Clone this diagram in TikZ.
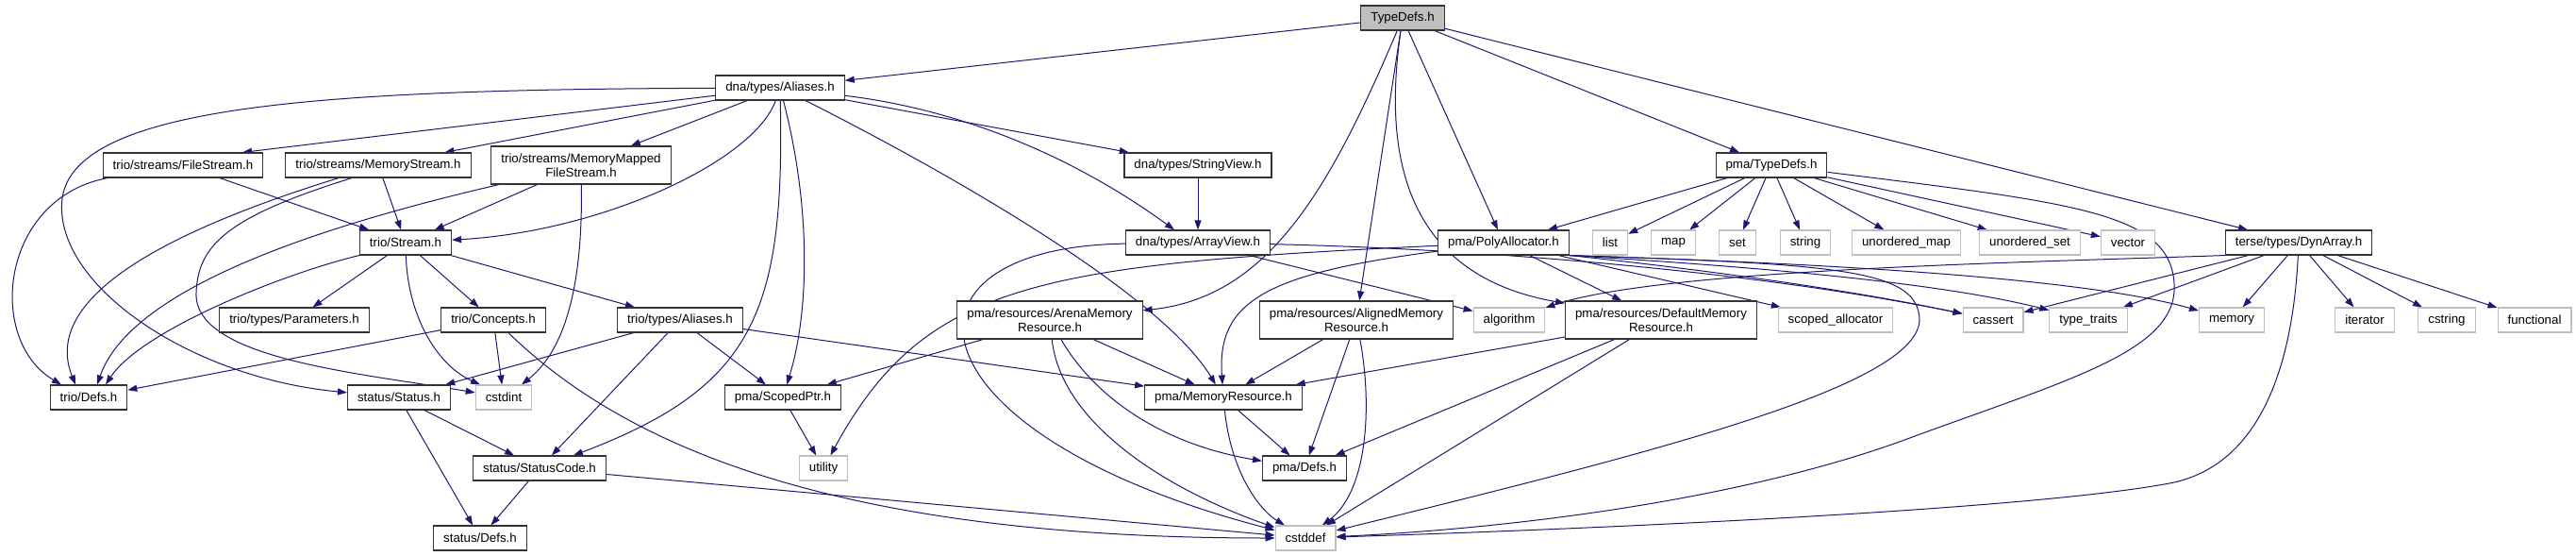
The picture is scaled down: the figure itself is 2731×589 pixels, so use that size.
\documentclass[tikz,border=0pt]{standalone}
\usepackage{fontspec}
\setmainfont{Liberation Sans}
\usetikzlibrary{arrows.meta,backgrounds}
\definecolor{depblue}{HTML}{191970}
\definecolor{hdrgray}{HTML}{BFBFBF}

\begin{document}
\begin{tikzpicture}[x=1pt,y=-1pt,>={Triangle[length=10pt,width=7pt]},
  hdr/.style={draw=black!80,fill=white,line width=1.1pt,font=\fontsize{13.3}{15.5}\selectfont,
    inner xsep=10.5pt,inner ysep=0pt,minimum height=26pt,align=center},
  hdrtwo/.style={hdr,minimum height=40pt},
  sys/.style={hdr,draw=hdrgray},
  dep/.style={depblue,line width=1pt,->}]
  \useasboundingbox (0,0) rectangle (2731,589);
  % cabeceras del proyecto
  \node[hdr,fill=hdrgray] (typedefs) at (1487,19) {TypeDefs.h};
  \node[hdr] (aliases) at (827,93) {dna/types/Aliases.h};
  \node[hdr] (filestream) at (194,175) {trio/streams/FileStream.h};
  \node[hdr] (memstream) at (401,175) {trio/streams/MemoryStream.h};
  \node[hdrtwo] (mmapstream) at (616,175) {trio/streams/MemoryMapped\\FileStream.h};
  \node[hdr] (stringview) at (1270,175) {dna/types/StringView.h};
  \node[hdr] (pmatypedefs) at (1878,175) {pma/TypeDefs.h};
  \node[hdr] (stream) at (430,257) {trio/Stream.h};
  \node[hdr] (arrayview) at (1270,257) {dna/types/ArrayView.h};
  \node[hdr] (polyalloc) at (1594,257) {pma/PolyAllocator.h};
  \node[hdr] (dynarray) at (2437,257) {terse/types/DynArray.h};
  \node[hdr] (params) at (312,339) {trio/types/Parameters.h};
  \node[hdr] (concepts) at (523,339) {trio/Concepts.h};
  \node[hdr] (trioaliases) at (721,339) {trio/types/Aliases.h};
  \node[hdrtwo] (arena) at (1113,339) {pma/resources/ArenaMemory\\Resource.h};
  \node[hdrtwo] (aligned) at (1438,339) {pma/resources/AlignedMemory\\Resource.h};
  \node[hdrtwo] (defaultres) at (1761,339) {pma/resources/DefaultMemory\\Resource.h};
  \node[hdr] (triodefs) at (94,421) {trio/Defs.h};
  \node[hdr] (status) at (423,421) {status/Status.h};
  \node[hdr] (scopedptr) at (830,421) {pma/ScopedPtr.h};
  \node[hdr] (memres) at (1297,421) {pma/MemoryResource.h};
  \node[hdr] (statuscode) at (572,496) {status/StatusCode.h};
  \node[hdr] (pmadefs) at (1383,496) {pma/Defs.h};
  \node[hdr] (statusdefs) at (509,570) {status/Defs.h};
  % cabeceras del sistema
  \node[sys] (list) at (1707,257) {list};
  \node[sys] (map) at (1774,257) {map};
  \node[sys] (set) at (1842,257) {set};
  \node[sys] (string) at (1914,257) {string};
  \node[sys] (umap) at (2021,257) {unordered\_map};
  \node[sys] (uset) at (2152,257) {unordered\_set};
  \node[sys] (vector) at (2256,257) {vector};
  \node[sys] (algorithm) at (1600,339) {algorithm};
  \node[sys] (scopedalloc) at (1946,339) {scoped\_allocator};
  \node[sys] (cassert) at (2113,339) {cassert};
  \node[sys] (typetraits) at (2214,339) {type\_traits};
  \node[sys] (memory) at (2366,339) {memory};
  \node[sys] (iterator) at (2507,339) {iterator};
  \node[sys] (cstring) at (2594,339) {cstring};
  \node[sys] (functional) at (2687,339) {functional};
  \node[sys] (cstdint) at (534,421) {cstdint};
  \node[sys] (utility) at (873,496) {utility};
  \node[sys] (cstddef) at (1384,570) {cstddef};
  \begin{scope}[on background layer]
  % includes rectos
  \foreach \a/\b in {typedefs/aliases,typedefs/aligned,typedefs/polyalloc,typedefs/pmatypedefs,typedefs/dynarray,
      aliases/memstream,aliases/mmapstream,aliases/stringview,filestream/stream,memstream/stream,mmapstream/stream,
      stream/params,stream/concepts,stream/trioaliases,stringview/arrayview,arrayview/algorithm,
      pmatypedefs/polyalloc,pmatypedefs/list,pmatypedefs/map,pmatypedefs/set,pmatypedefs/string,pmatypedefs/umap,
      pmatypedefs/uset,pmatypedefs/vector,polyalloc/defaultres,polyalloc/scopedalloc,
      dynarray/cassert,dynarray/typetraits,dynarray/memory,dynarray/iterator,dynarray/cstring,dynarray/functional,
      concepts/triodefs,concepts/cstdint,trioaliases/status,trioaliases/statuscode,trioaliases/scopedptr,trioaliases/memres,
      arena/scopedptr,arena/memres,aligned/memres,aligned/pmadefs,defaultres/memres,defaultres/pmadefs,defaultres/cstddef,
      status/statuscode,status/statusdefs,statuscode/statusdefs,statuscode/cstddef,scopedptr/utility,memres/pmadefs}
    \draw[dep] (\a) -- (\b);
  % includes curvos
  \draw[dep] (typedefs) .. controls (1410,200) and (1345,315) .. (arena);
  \draw[dep] (typedefs) .. controls (1468,150) and (1480,290) .. (defaultres);
  \draw[dep] (aliases) -- ([xshift=63pt]filestream.north);
  \draw[dep] (aliases) .. controls (800,170) and (640,245) .. (stream);
  \draw[dep] (aliases) .. controls (350,95) and (80,110) .. (66,210) .. controls (55,300) and (200,400) .. (status);
  \draw[dep] (aliases) .. controls (1010,115) and (1130,160) .. ([xshift=-25pt]arrayview.north);
  \draw[dep] (aliases) .. controls (1000,180) and (1230,310) .. (memres);
  \draw[dep] (aliases) .. controls (860,220) and (858,330) .. (scopedptr);
  \draw[dep] (aliases) .. controls (832,330) and (800,410) .. (statuscode);
  \draw[dep] ([xshift=-80pt]filestream.south) .. controls (0,210) and (-15,360) .. ([xshift=-29pt]triodefs.north);
  \draw[dep] ([xshift=-42pt]memstream.south) .. controls (160,250) and (45,320) .. ([xshift=-14pt]triodefs.north);
  \draw[dep] ([xshift=-28pt]memstream.south) .. controls (240,230) and (210,260) .. (208,310) .. controls (205,380) and (380,395) .. (cstdint);
  \draw[dep] ([xshift=-87pt]mmapstream.south) .. controls (250,260) and (130,330) .. ([xshift=9pt]triodefs.north);
  \draw[dep] (mmapstream) .. controls (618,300) and (600,370) .. ([xshift=19pt]cstdint.north);
  \draw[dep] (stream.south west) .. controls (300,290) and (150,350) .. ([xshift=18pt]triodefs.north);
  \draw[dep] (stream) .. controls (432,330) and (460,385) .. ([xshift=-25pt]cstdint.north);
  \draw[dep] ([xshift=16pt]concepts.south) .. controls (660,470) and (880,570) .. (cstddef);
  \draw[dep] (arena) .. controls (1160,420) and (1230,470) .. (pmadefs);
  \draw[dep] (arena) .. controls (1125,450) and (1240,520) .. (cstddef);
  \draw[dep] (memres) .. controls (1305,500) and (1335,540) .. ([xshift=-22pt]cstddef.north);
  \draw[dep] (aligned) .. controls (1455,430) and (1450,520) .. (cstddef);
  \draw[dep] (arrayview) .. controls (930,262) and (960,460) .. (cstddef);
  \draw[dep] (arrayview) .. controls (1550,263) and (1850,285) .. (cassert);
  \draw[dep] (polyalloc) .. controls (1340,290) and (1290,320) .. (memres);
  \draw[dep] (polyalloc) .. controls (1100,280) and (980,300) .. (utility);
  \draw[dep] (polyalloc.south east) .. controls (1800,285) and (1950,305) .. (cassert);
  \draw[dep] (polyalloc.south east) .. controls (1850,282) and (2050,298) .. (typetraits);
  \draw[dep] (polyalloc.south east) .. controls (1900,278) and (2200,292) .. (memory);
  \draw[dep] (polyalloc.south east) .. controls (1950,280) and (2035,285) .. (2035,340) .. controls (2030,410) and (1750,480) .. (cstddef);
  \draw[dep] (pmatypedefs) .. controls (2200,215) and (2300,225) .. (2305,300) .. controls (2310,370) and (2200,400) .. (2030,462) .. controls (1850,530) and (1600,560) .. (cstddef);
  \draw[dep] (dynarray.south west) .. controls (2150,278) and (1760,285) .. (algorithm);
  \draw[dep] (dynarray) .. controls (2430,400) and (2390,495) .. (2300,512) .. controls (2150,540) and (1700,560) .. (cstddef);
  \end{scope}
\end{tikzpicture}
\end{document}
